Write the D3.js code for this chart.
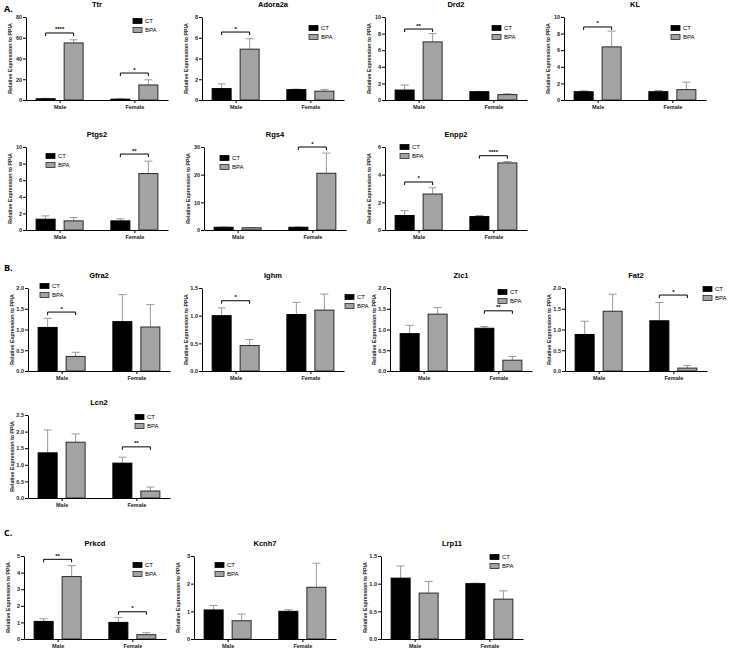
<!DOCTYPE html>
<html>
<head>
<meta charset="utf-8">
<script src="https://d3js.org/d3.v7.min.js"></script>
<style>
  body { margin:0; background:#fff; }
  svg text { font-family: "Liberation Sans", Arial, sans-serif; }
</style>
</head>
<body>
<div id="content"></div>
<script>
// ---- data ----
var genes = ["Ttr","Adora2a","Drd2","KL","Ptgs2","Rgs4","Enpp2","Gfra2","Ighm","Zic1","Fat2","Lcn2","Prkcd","Kcnh7","Lrp11"];
var groups = ["Male","Female"];
var treatments = ["CT","BPA"];
// means
var ctMale    = [1.2, 1.1, 1.2, 1.0, 1.3, 1.0, 1.05, 1.05, 1.0, 0.9, 0.88, 1.36, 1.06, 1.05, 1.10];
var bpaMale   = [55,  4.9, 7.0, 6.4, 1.1, 0.8, 2.6,  0.35, 0.46, 1.37, 1.44, 1.68, 3.76, 0.66, 0.83];
var ctFemale  = [0.8, 1.0, 1.0, 1.0, 1.1, 1.0, 0.97, 1.19, 1.02, 1.03, 1.21, 1.05, 1.0, 1.0, 1.0];
var bpaFemale = [14.5,0.85,0.65,1.25,6.8, 20.5,4.85, 1.06, 1.1, 0.26, 0.07, 0.21, 0.26, 1.87, 0.72];
// error bar (upper) lengths
var ctMaleErr    = [0.4, 0.45, 0.6, 0.1, 0.4, 0.05, 0.35, 0.22, 0.14, 0.2, 0.32, 0.69, 0.16, 0.16, 0.22];
var bpaMaleErr   = [3,   1.0,  1.0, 1.9, 0.4, 0.05, 0.45, 0.1,  0.11, 0.16, 0.41, 0.25, 0.66, 0.24, 0.21];
var ctFemaleErr  = [0.3, 0.05, 0.03,0.15,0.25,0.05, 0.08, 0.65, 0.22, 0.04, 0.44, 0.18, 0.3, 0.06, 0.01];
var bpaFemaleErr = [5,   0.17, 0.1, 0.9, 1.5, 7.3,  0.1,  0.54, 0.29, 0.09, 0.06, 0.12, 0.12, 0.87, 0.15];
var yMax  = [80, 8, 10, 10, 10, 30, 6, 2.0, 1.5, 2.0, 2.0, 2.5, 5, 3, 1.5];
var yStep = [20, 2, 2,  2,  2,  10, 2, 0.5, 0.5, 0.5, 0.5, 0.5, 1, 1, 0.5];
// significance: [gene index, group, stars, bracket height]
var sigs = [
  [0,"Male","****",64.6],[0,"Female","*",26],
  [1,"Male","*",6.55],[2,"Male","**",8.55],[3,"Male","*",8.8],
  [4,"Female","**",9.15],[5,"Female","*",30],
  [6,"Male","*",3.47],[6,"Female","****",5.37],
  [7,"Male","*",1.42],[8,"Male","*",1.27],[9,"Female","**",1.45],
  [10,"Female","*",1.83],[11,"Female","**",1.54],
  [12,"Male","**",4.8],[12,"Female","*",1.64]
];
var sectionLabels = ["A.","B.","C."];

// ---- layout: [axis x, plot top, legend dx, legend dy] ----
var layout = [
  [26,17,107,4],[202,17,107,11],[385,17,107,11],[564,17,107,11],
  [26,147,20,9],[204,147,16,11],[385,147,15,0],
  [28,288,12,-2],[202,288,143,9],[390,288,108,4],[565,288,138,1],
  [28,415,107,2],
  [24,556,109,9],[194,556,21,9],[381,556,109,1]
];
var sectionPos = [[4,9],[4,268],[4,533]];
var plotH = 83, plotW = 142, barW = 19, barOff = 14;

var svg = d3.select("#content").append("svg")
  .attr("width", 729).attr("height", 649);

sectionLabels.forEach(function(s, i) {
  svg.append("text").attr("x", sectionPos[i][0]).attr("y", sectionPos[i][1])
    .attr("dy", "0.35em").style("font-family", "'Open Sans', sans-serif")
    .style("font-weight", "bold").style("font-size", "9px").text(s);
});

genes.forEach(function(gene, i) {
  var ax = layout[i][0], top = layout[i][1];
  var g = svg.append("g");
  var x = d3.scalePoint().domain(groups).range([ax, ax + plotW]).padding(0.45);
  var y = d3.scaleLinear().domain([0, yMax[i]]).range([top + plotH, top]);
  var fmt = yStep[i] < 1 ? d3.format(".1f") : d3.format("d");

  var means = { Male: [ctMale[i], bpaMale[i]], Female: [ctFemale[i], bpaFemale[i]] };
  var errs  = { Male: [ctMaleErr[i], bpaMaleErr[i]], Female: [ctFemaleErr[i], bpaFemaleErr[i]] };
  var bars = [];
  groups.forEach(function(gr) {
    treatments.forEach(function(t, k) {
      bars.push({ group: gr, t: k, v: means[gr][k], e: errs[gr][k] });
    });
  });
  var cx = function(d) { return x(d.group) + (d.t == 0 ? -barOff : barOff); };

  // error bars (upper only)
  g.selectAll(".err").data(bars).enter().append("path")
    .attr("d", function(d) {
      var c = cx(d), y0 = y(d.v), y1 = y(d.v + d.e);
      return "M" + c + "," + y0 + "V" + y1 + "M" + (c - 4) + "," + y1 + "H" + (c + 4);
    })
    .attr("stroke", "#9a9a9a").attr("stroke-width", 1).attr("fill", "none");

  g.selectAll(".bar").data(bars).enter().append("rect")
    .attr("x", function(d) { return cx(d) - barW / 2; })
    .attr("y", function(d) { return y(d.v); })
    .attr("width", barW)
    .attr("height", function(d) { return y(0) - y(d.v); })
    .attr("fill", function(d) { return d.t == 0 ? "#000" : "#a3a3a3"; })
    .attr("stroke", function(d) { return d.t == 0 ? "#000" : "#2a2a2a"; })
    .attr("stroke-width", 1);

  var yAxis = g.append("g").attr("transform", "translate(" + ax + ",0)")
    .call(d3.axisLeft(y).tickValues(d3.range(0, yMax[i] + yStep[i] / 2, yStep[i]))
      .tickFormat(fmt).tickSize(3).tickSizeOuter(0));
  var xAxis = g.append("g").attr("transform", "translate(0," + (top + plotH) + ")")
    .call(d3.axisBottom(x).tickSize(3).tickSizeOuter(0));
  [yAxis, xAxis].forEach(function(a) {
    a.selectAll("path,line").attr("stroke", "#000").attr("stroke-width", 1);
    a.selectAll("text").style("font-size", "5.5px").style("font-weight", "bold").attr("fill", "#222");
  });
  yAxis.selectAll("text").attr("x", -4);
  xAxis.selectAll("text").attr("y", 5);

  g.append("text")
    .attr("transform", "translate(" + (ax - 14) + "," + (top + plotH / 2) + ") rotate(-90)")
    .attr("text-anchor", "middle").style("font-size", "5.3px").style("font-weight", "bold")
    .attr("fill", "#222").text("Relative Expression to PPIA");

  g.append("text").attr("x", ax + plotW / 2).attr("y", top - 10)
    .attr("text-anchor", "middle").style("font-size", "7.5px").style("font-weight", "bold")
    .text(gene);

  // legend
  var lx = ax + layout[i][2], ly = top + layout[i][3];
  treatments.forEach(function(t, k) {
    g.append("rect").attr("x", lx).attr("y", ly + k * 9 - 2.5).attr("width", 9).attr("height", 5)
      .attr("fill", k == 0 ? "#000" : "#a3a3a3").attr("stroke", k == 0 ? "#000" : "#2a2a2a").attr("stroke-width", 0.8);
    g.append("text").attr("x", lx + 12).attr("y", ly + k * 9).attr("dy", "0.35em")
      .style("font-size", "6px").text(t);
  });

  // significance brackets
  sigs.filter(function(s) { return s[0] == i; }).forEach(function(s) {
    var x0 = x(s[1]) - barOff, x1 = x(s[1]) + barOff, yy = y(s[3]);
    g.append("path").attr("d", "M" + x0 + "," + (yy + 3) + "V" + yy + "H" + x1 + "V" + (yy + 3))
      .attr("stroke", "#000").attr("stroke-width", 1).attr("fill", "none");
    g.append("text").attr("x", (x0 + x1) / 2).attr("y", yy - 1.5).attr("text-anchor", "middle")
      .style("font-size", "6px").style("font-weight", "bold").text(s[2]);
  });
});
</script>
</body>
</html>
